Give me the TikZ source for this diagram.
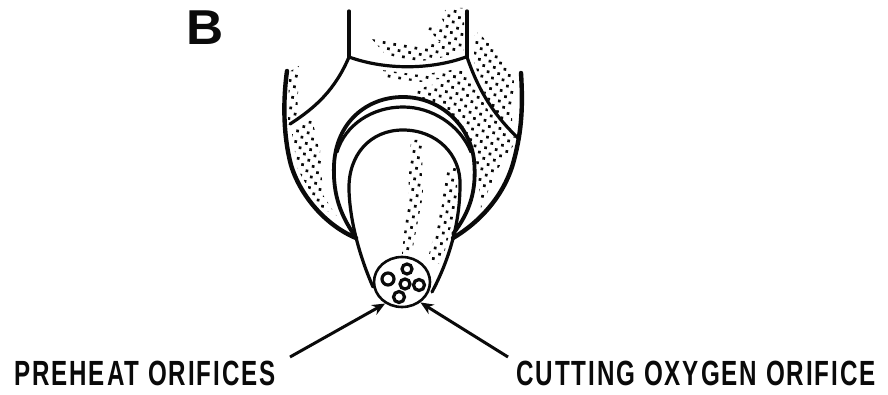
\documentclass[tikz,border=0pt]{standalone}
\usepackage{fontspec}
\setmainfont{Liberation Sans}
\newfontfamily\labelfont[LetterSpace=8]{Liberation Sans}
\usetikzlibrary{shapes.geometric,arrows.meta,patterns.meta}
\definecolor{inkblack}{HTML}{0A0A0A}

\begin{document}
\begin{tikzpicture}[x=1pt, y=-1pt,
  outline/.style={line width=#1, inkblack, line cap=round},
  outline/.default=3.2pt,
  stipple/.style={pattern={Dots[distance=7.6pt, radius=1.9pt, angle=35]}, pattern color=inkblack},
  orifice/.style={circle, draw=inkblack, line width=3.2pt, inner sep=0pt, minimum size=#1},
  callout/.style={font=\labelfont\bfseries\fontsize{35}{35}\selectfont, text=inkblack, inner sep=0pt, anchor=base west},
  pointer/.style={line width=3pt, inkblack, -{Stealth[length=13pt, width=11pt]}}]
  \useasboundingbox (0,0) rectangle (888,395);
  % dotted shading
  \fill[stipple] (371,38) -- (385,54) -- (415,62) -- (440,58) -- (464,50) -- (464,8) -- (448,8) -- (440,15) -- (445,25) -- (427,28) -- (440,42) -- (420,47) -- (400,42) -- cycle;
  \fill[stipple] (382,70) -- (420,75) -- (458,69) -- (458,76) -- (420,82) -- (382,77) -- cycle;
  \fill[stipple] (412,91) -- (448,80) -- (456,70) -- (464,70) -- (488,110) -- (517,140) -- (497,170) -- (481,208) -- (476,160) -- (458,120) -- cycle;
  \fill[stipple] (474,30) -- (492,45) -- (514,78) -- (512,122) -- (500,120) -- (484,92) -- (474,62) -- cycle;
  \fill[stipple] (291,128) -- (312,120) -- (320,150) -- (323,195) -- (338,218) -- (318,205) -- (298,170) -- cycle;
  \fill[stipple] (289,72) -- (299,66) -- (297,120) -- (288,120) -- cycle;
  \fill[stipple] (411,140) -- (422,140) -- (423,195) -- (412,252) -- (402,254) -- (408,195) -- cycle;
  \fill[stipple] (446,165) -- (457,165) -- (457,205) -- (441,265) -- (428,258) -- (442,205) -- cycle;
  % torch body
  \draw[outline] (349,11) -- (349,57);
  \draw[outline] (467,11) -- (467,57);
  \draw[outline] (349,57) .. controls (385,70) and (430,70) .. (466,57);
  \draw[outline] (349,57) .. controls (335,90) and (315,108) .. (290,124);
  \draw[outline] (467,57) .. controls (480,95) and (497,118) .. (518,138);
  \draw[outline=4.4pt] (287,71) .. controls (283,100) and (283,135) .. (291,165) .. controls (300,195) and (325,225) .. (356,238);
  \draw[outline=4.4pt] (521,73) .. controls (523,105) and (522,130) .. (514,160) .. controls (505,195) and (480,222) .. (453,238);
  % collar
  \draw[outline=3.8pt] (355,236) .. controls (338,212) and (333,190) .. (334,165) .. controls (336,122) and (367,97) .. (403,97) .. controls (440,97) and (470,125) .. (474,160) .. controls (477,190) and (470,212) .. (453,234);
  \draw[outline] (337,152) .. controls (345,125) and (372,107) .. (403,107) .. controls (432,107) and (460,125) .. (471,152);
  % tip
  \draw[outline] (373,287) .. controls (362,262) and (350,225) .. (349,190) .. controls (348,155) and (370,130) .. (403,130) .. controls (437,130) and (461,155) .. (460,185) .. controls (460,225) and (448,262) .. (432,292);
  \node[ellipse, draw=inkblack, line width=2.6pt, fill=white, minimum width=56pt, minimum height=50pt, inner sep=0pt] (face) at (402,282) {};
  \node[orifice=12pt] (hole1) at (388,279) {};
  \node[orifice=10pt] (hole2) at (407,269) {};
  \node[orifice=10pt] (hole3) at (405,284) {};
  \node[orifice=11pt] (hole4) at (419,285) {};
  \node[orifice=11pt] (hole5) at (399,297) {};
  % letter and labels
  \node[font=\bfseries\fontsize{49}{49}\selectfont, text=inkblack, inner sep=0pt, anchor=base] (letterb) at (205,45) {\scalebox{1.05}[1]{B}};
  \node[callout] (preheat) at (14,385) {\scalebox{.69}[1]{PREHEAT ORIFICES}};
  \node[callout] (cutting) at (516,385) {\scalebox{.692}[1]{CUTTING OXYGEN ORIFICE}};
  \coordinate (preheatend) at (290,357);
  \coordinate (cuttingend) at (508,357);
  \draw[pointer] (preheatend) -- (face.232);
  \draw[pointer] (cuttingend) -- (face.312);
\end{tikzpicture}
\end{document}
